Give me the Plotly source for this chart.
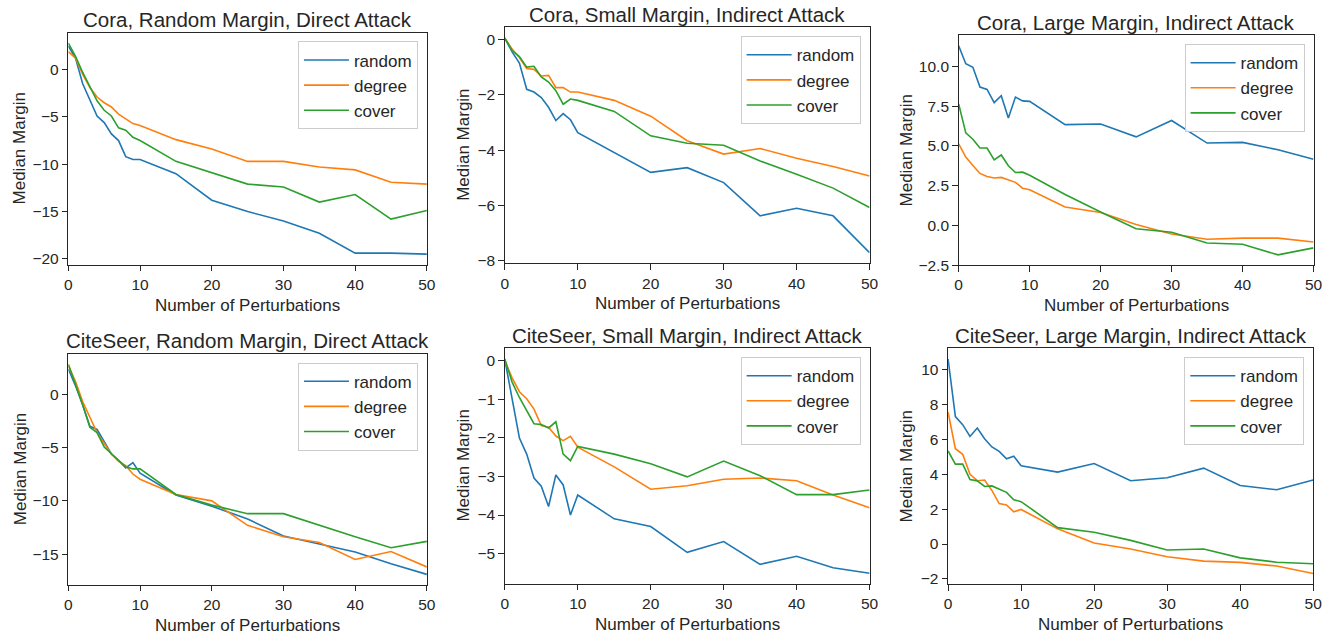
import plotly.graph_objects as go

W, H = 1344, 638

perturbations = [0, 1, 2, 3, 4, 5, 6, 7, 8, 9, 10, 15, 20, 25, 30, 35, 40, 45, 50]
series_names = ["random", "degree", "cover"]
colors = ["#1f77b4", "#ff7f0e", "#2ca02c"]

titles = [
    "Cora, Random Margin, Direct Attack",
    "Cora, Small Margin, Indirect Attack",
    "Cora, Large Margin, Indirect Attack",
    "CiteSeer, Random Margin, Direct Attack",
    "CiteSeer, Small Margin, Indirect Attack",
    "CiteSeer, Large Margin, Indirect Attack",
]

# Cora, Random Margin, Direct Attack
cora_rand_random = [2.5, 1.2, -1.5, -3.3, -4.9, -5.6, -6.8, -7.5, -9.2, -9.5, -9.5, -11.0, -13.8, -15.0, -16.0, -17.3, -19.4, -19.4, -19.5]
cora_rand_degree = [1.9, 1.2, -0.5, -1.9, -2.9, -3.5, -3.95, -4.7, -5.2, -5.7, -5.9, -7.4, -8.4, -9.7, -9.7, -10.3, -10.6, -11.9, -12.1]
cora_rand_cover = [2.8, 1.4, -0.3, -1.8, -3.3, -4.3, -4.9, -6.15, -6.4, -7.15, -7.5, -9.7, -10.9, -12.1, -12.4, -14.0, -13.2, -15.8, -14.9]

# Cora, Small Margin, Indirect Attack
cora_small_random = [0.05, -0.45, -0.85, -1.8, -1.9, -2.1, -2.45, -2.93, -2.68, -2.9, -3.37, -4.1, -4.8, -4.63, -5.17, -6.37, -6.1, -6.37, -7.7]
cora_small_degree = [0.05, -0.35, -0.65, -1.05, -1.08, -1.32, -1.3, -1.74, -1.74, -1.9, -1.9, -2.2, -2.77, -3.66, -4.14, -3.94, -4.29, -4.59, -4.93]
cora_small_cover = [0.05, -0.4, -0.62, -1.0, -0.97, -1.35, -1.54, -1.85, -2.34, -2.15, -2.2, -2.6, -3.48, -3.75, -3.82, -4.39, -4.87, -5.37, -6.07]

# Cora, Large Margin, Indirect Attack
cora_large_random = [11.3, 10.17, 9.94, 8.7, 8.55, 7.72, 8.16, 6.75, 8.07, 7.83, 7.8, 6.34, 6.38, 5.57, 6.6, 5.18, 5.22, 4.76, 4.16]
cora_large_degree = [5.13, 4.3, 3.77, 3.27, 3.08, 2.98, 3.02, 2.85, 2.71, 2.34, 2.24, 1.16, 0.81, 0.06, -0.54, -0.87, -0.8, -0.8, -1.04]
cora_large_cover = [7.64, 5.82, 5.42, 4.87, 4.87, 4.12, 4.43, 3.75, 3.33, 3.35, 3.15, 1.95, 0.85, -0.21, -0.43, -1.1, -1.18, -1.85, -1.41]

# CiteSeer, Random Margin, Direct Attack
cite_rand_random = [2.36, 0.8, -1.0, -3.0, -3.3, -4.5, -5.6, -6.2, -6.9, -6.4, -7.4, -9.45, -10.5, -11.7, -13.3, -14.05, -14.8, -15.9, -16.9]
cite_rand_degree = [2.67, 1.2, -0.7, -2.08, -3.6, -4.6, -5.6, -6.3, -6.7, -7.48, -7.97, -9.4, -10.0, -12.3, -13.37, -13.9, -15.5, -14.75, -16.2]
cite_rand_cover = [2.82, 1.0, -1.0, -3.1, -3.6, -4.94, -5.6, -6.2, -6.8, -7.0, -7.0, -9.4, -10.4, -11.2, -11.2, -12.3, -13.37, -14.4, -13.8]

# CiteSeer, Small Margin, Indirect Attack
cite_small_random = [0.04, -1.0, -2.0, -2.42, -3.04, -3.25, -3.78, -2.96, -3.22, -4.0, -3.48, -4.1, -4.3, -4.97, -4.69, -5.28, -5.07, -5.37, -5.51]
cite_small_degree = [0.0, -0.44, -0.8, -0.98, -1.25, -1.68, -1.72, -1.95, -2.07, -1.96, -2.24, -2.75, -3.33, -3.24, -3.07, -3.04, -3.11, -3.48, -3.81]
cite_small_cover = [0.05, -0.55, -0.95, -1.3, -1.63, -1.65, -1.74, -1.58, -2.42, -2.59, -2.22, -2.42, -2.67, -3.01, -2.6, -2.98, -3.47, -3.47, -3.35]

# CiteSeer, Large Margin, Indirect Attack
cite_large_random = [10.6, 7.3, 6.84, 6.16, 6.65, 6.03, 5.56, 5.31, 4.88, 5.03, 4.48, 4.12, 4.61, 3.63, 3.8, 4.35, 3.35, 3.11, 3.67]
cite_large_degree = [7.55, 5.46, 5.14, 3.99, 3.63, 3.67, 3.07, 2.32, 2.24, 1.85, 1.98, 0.87, 0.06, -0.28, -0.73, -0.98, -1.05, -1.26, -1.69]
cite_large_cover = [5.33, 4.58, 4.58, 3.69, 3.62, 3.3, 3.33, 3.13, 2.96, 2.54, 2.43, 0.94, 0.68, 0.21, -0.34, -0.28, -0.79, -1.04, -1.13]

panels = [
    [cora_rand_random, cora_rand_degree, cora_rand_cover],
    [cora_small_random, cora_small_degree, cora_small_cover],
    [cora_large_random, cora_large_degree, cora_large_cover],
    [cite_rand_random, cite_rand_degree, cite_rand_cover],
    [cite_small_random, cite_small_degree, cite_small_cover],
    [cite_large_random, cite_large_degree, cite_large_cover],
]

x_ticks = [0, 10, 20, 30, 40, 50]
y_dticks = [5, 2, 2.5, 5, 1, 2]
y_formats = ["", "", ".1f", "", "", ""]

# layout boxes in pixels: (left, right, top, bottom)
boxes = [
    (65, 427, 33, 268),
    (505.7, 874, 27.7, 266.7),
    (964, 1322.3, 35.7, 268.7),
    (65, 427, 358.3, 592.3),
    (505.7, 874, 352.7, 591.3),
    (953.3, 1322, 352.7, 591.7),
]
ylabel_x = [16, 464, 911, 16, 464, 911]

FONT = "Liberation Sans, Arial, sans-serif"
TXT = "#262626"

fig = go.Figure()
layout = dict(
    width=W, height=H,
    margin=dict(l=0, r=0, t=0, b=0),
    paper_bgcolor="white", plot_bgcolor="white",
    font=dict(family=FONT, color=TXT, size=15.5),
    showlegend=True,
)
annotations = []

for i, (series, box) in enumerate(zip(panels, boxes)):
    k = "" if i == 0 else str(i + 1)
    l, r, t, b = box
    xd = [l / W, r / W]
    yd = [1 - b / H, 1 - t / H]
    legname = "legend" + k
    for name, col, vals in zip(series_names, colors, series):
        fig.add_trace(go.Scatter(
            x=perturbations, y=vals, mode="lines", name=name,
            line=dict(color=col, width=1.6),
            xaxis="x" + k, yaxis="y" + k, legend=legname,
        ))
    allv = [v for s in series for v in s]
    lo, hi = min(allv), max(allv)
    pad = 0.05 * (hi - lo)
    axis_common = dict(
        showline=True, linecolor=TXT, linewidth=1.1, mirror=True,
        ticks="outside", ticklen=5.5, tickwidth=1.1, tickcolor=TXT,
        showgrid=False, zeroline=False,
        tickfont=dict(family=FONT, size=15.5, color=TXT),
    )
    layout["xaxis" + k] = dict(
        domain=xd, anchor="y" + k, range=[0, 50],
        tickmode="array", tickvals=x_ticks, **axis_common,
    )
    layout["yaxis" + k] = dict(
        domain=yd, anchor="x" + k, range=[lo - pad, hi + pad],
        dtick=y_dticks[i], tick0=0, tickformat=y_formats[i], **axis_common,
    )
    layout[legname] = dict(
        x=(r - 9) / W, y=1 - (t + 9) / H, xanchor="right", yanchor="top",
        xref="paper", yref="paper",
        bgcolor="rgba(255,255,255,0.85)", bordercolor="#cccccc", borderwidth=1,
        font=dict(family=FONT, size=17, color=TXT),
        tracegroupgap=0, itemwidth=45,
    )
    cx = (l + r) / 2
    annotations.append(dict(
        text=titles[i], x=cx / W, y=1 - (t - 13) / H, xref="paper", yref="paper",
        xanchor="center", yanchor="middle", showarrow=False,
        font=dict(family=FONT, size=20.5, color=TXT),
    ))
    annotations.append(dict(
        text="Number of Perturbations", x=cx / W, y=1 - (b + 41) / H,
        xref="paper", yref="paper", xanchor="center", yanchor="middle",
        showarrow=False, font=dict(family=FONT, size=17, color=TXT),
    ))
    annotations.append(dict(
        text="Median Margin", x=ylabel_x[i] / W, y=1 - ((t + b) / 2) / H,
        xref="paper", yref="paper", xanchor="center", yanchor="middle",
        textangle=-90, showarrow=False, font=dict(family=FONT, size=17, color=TXT),
    ))

layout["annotations"] = annotations
fig.update_layout(**layout)
fig.write_html("out.html")
